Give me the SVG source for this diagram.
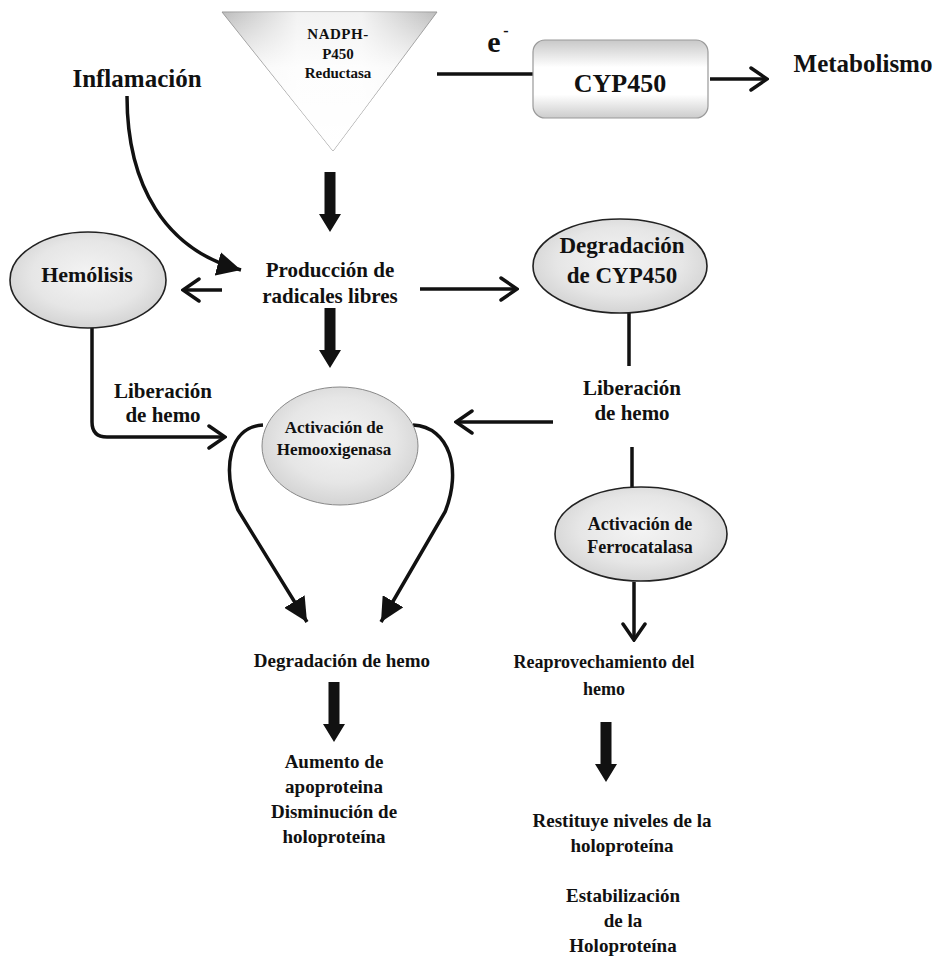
<svg xmlns="http://www.w3.org/2000/svg" width="938" height="956" viewBox="0 0 938 956">
<style>
text{font-family:"Liberation Serif","Times New Roman",serif;font-weight:bold;fill:#111;text-anchor:middle}
.ln{fill:none;stroke:#111;stroke-width:3.5}
.open{marker-end:url(#open)}
.fill{marker-end:url(#solid)}
.ell{stroke:#222;stroke-width:1.6;fill:url(#eg)}
</style>
<defs>
<radialGradient id="eg" cx="0.5" cy="0.45" r="0.6">
<stop offset="0" stop-color="#f4f4f4"/>
<stop offset="0.6" stop-color="#e6e6e6"/>
<stop offset="1" stop-color="#cfcfcf"/>
</radialGradient>
<linearGradient id="tgv" x1="0" y1="0" x2="0" y2="1">
<stop offset="0" stop-color="#bdbdbd"/>
<stop offset="0.4" stop-color="#f6f6f6"/>
<stop offset="1" stop-color="#ffffff"/>
</linearGradient>
<linearGradient id="tgh" x1="0" y1="0" x2="1" y2="0">
<stop offset="0" stop-color="#ffffff" stop-opacity="0"/>
<stop offset="0.35" stop-color="#ffffff" stop-opacity="0.8"/>
<stop offset="0.65" stop-color="#ffffff" stop-opacity="0.8"/>
<stop offset="1" stop-color="#ffffff" stop-opacity="0"/>
</linearGradient>
<linearGradient id="bg" x1="0" y1="0" x2="0" y2="1">
<stop offset="0" stop-color="#c8c8c8"/>
<stop offset="0.35" stop-color="#ffffff"/>
<stop offset="0.7" stop-color="#ffffff"/>
<stop offset="1" stop-color="#cccccc"/>
</linearGradient>
<marker id="open" viewBox="0 0 20 26" refX="18" refY="13" markerWidth="20" markerHeight="26" markerUnits="userSpaceOnUse" orient="auto">
<path d="M2,2 L18,13 L2,24" fill="none" stroke="#111" stroke-width="3.5" stroke-linecap="round" stroke-linejoin="miter"/>
</marker>
<marker id="solid" viewBox="0 0 24 24" refX="24" refY="12" markerWidth="24" markerHeight="24" markerUnits="userSpaceOnUse" orient="auto">
<path d="M0,0 L24,12 L0,24 Z" fill="#111"/>
</marker>
<path id="blk" d="M-5.5,0 H5.5 V42 H11 L0,60 L-11,42 H-5.5 Z" fill="#111"/>
</defs>

<g id="connectors">
<path class="ln" d="M437,74 H533"/>
<path class="ln open" d="M710,79 H767"/>
<path class="ln fill" d="M127,96 C127,185 165,250 241,270"/>
<path class="ln open" d="M222,290 H183"/>
<path class="ln open" d="M420,289 H517"/>
<path class="ln open" d="M92,328 V422 Q92,437 107,437 H225"/>
<path class="ln open" d="M553,422 H456"/>
<path class="ln" d="M629,313 V366"/>
<path class="ln" d="M632,447 V487"/>
<path class="ln open" d="M634,582 V640"/>
<path class="ln fill" d="M263,425 C228,427 222,470 238,510 L307,622"/>
<path class="ln fill" d="M413,425 C450,427 462,470 445,512 L381,622"/>
<use href="#blk" x="330" y="172"/>
<use href="#blk" x="330" y="308"/>
<use href="#blk" x="334" y="682"/>
<use href="#blk" x="606" y="722"/>
</g>

<g id="nadph">
<polygon points="222,12 437,12 333,151" fill="url(#tgv)" stroke="#999" stroke-width="1"/>
<polygon points="222,12 437,12 333,151" fill="url(#tgh)"/>
<text x="338" y="39" font-size="15" letter-spacing="0.5">NADPH-</text>
<text x="338" y="59" font-size="15">P450</text>
<text x="338" y="78" font-size="15">Reductasa</text>
</g>

<g id="electron">
<text x="494" y="52" font-size="30">e</text>
<text x="506" y="36" font-size="16">-</text>
</g>

<g id="cyp450">
<rect x="533" y="40" width="175" height="78" rx="12" fill="url(#bg)" stroke="#999" stroke-width="1.2"/>
<text x="620" y="92" font-size="26">CYP450</text>
</g>

<g id="metabolismo"><text x="863" y="72" font-size="25">Metabolismo</text></g>
<g id="inflamacion"><text x="137" y="87" font-size="25">Inflamación</text></g>

<g id="hemolisis">
<ellipse class="ell" cx="88" cy="280" rx="78" ry="48"/>
<text x="87" y="282" font-size="22">Hemólisis</text>
</g>

<g id="produccion">
<text x="330" y="277" font-size="21">Producción de</text>
<text x="330" y="303" font-size="21">radicales libres</text>
</g>

<g id="degradacion-cyp">
<ellipse class="ell" cx="620" cy="266" rx="87" ry="47"/>
<text x="622" y="253" font-size="23">Degradación</text>
<text x="622" y="283" font-size="23">de CYP450</text>
</g>

<g id="liberacion-izq">
<text x="163" y="398" font-size="21">Liberación</text>
<text x="163" y="422" font-size="21">de hemo</text>
</g>

<g id="liberacion-der">
<text x="632" y="395" font-size="21">Liberación</text>
<text x="632" y="420" font-size="21">de hemo</text>
</g>

<g id="hemooxigenasa">
<ellipse cx="340" cy="446" rx="78" ry="59" fill="url(#eg)" stroke="#888" stroke-width="1"/>
<text x="334" y="433" font-size="17">Activación de</text>
<text x="334" y="455" font-size="17">Hemooxigenasa</text>
</g>

<g id="ferrocatalasa">
<ellipse class="ell" cx="641" cy="534" rx="86" ry="47"/>
<text x="640" y="530" font-size="18">Activación de</text>
<text x="640" y="553" font-size="18">Ferrocatalasa</text>
</g>

<g id="degradacion-hemo"><text x="342" y="667" font-size="19">Degradación de hemo</text></g>

<g id="reaprovechamiento">
<text x="604" y="668" font-size="18">Reaprovechamiento del</text>
<text x="604" y="695" font-size="18">hemo</text>
</g>

<g id="aumento">
<text x="334" y="768" font-size="19">Aumento de</text>
<text x="334" y="793" font-size="19">apoproteina</text>
<text x="334" y="818" font-size="19">Disminución de</text>
<text x="334" y="843" font-size="19">holoproteína</text>
</g>

<g id="restituye">
<text x="622" y="827" font-size="19">Restituye niveles de la</text>
<text x="622" y="852" font-size="19">holoproteína</text>
</g>

<g id="estabilizacion">
<text x="623" y="902" font-size="19">Estabilización</text>
<text x="623" y="927" font-size="19">de la</text>
<text x="623" y="952" font-size="19">Holoproteína</text>
</g>
</svg>
